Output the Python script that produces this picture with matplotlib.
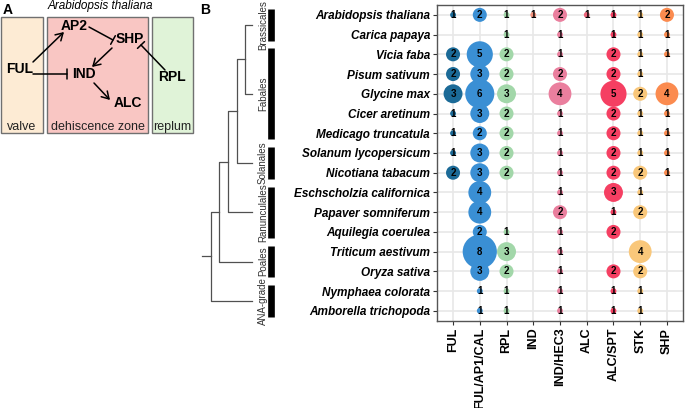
import numpy as np
import matplotlib.pyplot as plt
from matplotlib.patches import Rectangle

plt.rcParams['font.family'] = ['Liberation Sans', 'DejaVu Sans']

# ---- data (panel B) ----
species = ['Arabidopsis thaliana', 'Carica papaya', 'Vicia faba', 'Pisum sativum',
           'Glycine max', 'Cicer aretinum', 'Medicago truncatula', 'Solanum lycopersicum',
           'Nicotiana tabacum', 'Eschscholzia californica', 'Papaver somniferum',
           'Aquilegia coerulea', 'Triticum aestivum', 'Oryza sativa', 'Nymphaea colorata',
           'Amborella trichopoda']
genes = ['FUL', 'FUL/AP1/CAL', 'RPL', 'IND', 'IND/HEC3', 'ALC', 'ALC/SPT', 'STK', 'SHP']

ful      = [1, 0, 2, 2, 3, 1, 1, 1, 2, 0, 0, 0, 0, 0, 0, 0]
ful_ap1  = [2, 0, 5, 3, 6, 3, 2, 3, 3, 4, 4, 2, 8, 3, 1, 1]
rpl      = [1, 1, 2, 2, 3, 2, 2, 2, 2, 0, 0, 1, 3, 2, 1, 1]
ind      = [1, 0, 0, 0, 0, 0, 0, 0, 0, 0, 0, 0, 0, 0, 0, 0]
ind_hec3 = [2, 1, 1, 2, 4, 1, 1, 1, 1, 1, 2, 1, 1, 1, 1, 1]
alc      = [1, 0, 0, 0, 0, 0, 0, 0, 0, 0, 0, 0, 0, 0, 0, 0]
alc_spt  = [1, 1, 2, 2, 5, 2, 2, 2, 2, 3, 1, 2, 0, 2, 1, 1]
stk      = [1, 1, 1, 1, 2, 1, 1, 1, 2, 1, 2, 0, 4, 2, 1, 1]
shp      = [2, 1, 1, 0, 4, 1, 1, 1, 1, 0, 0, 0, 0, 0, 0, 0]

gene_colors = ['#1b6a97', '#3a8fd4', '#a2d7a9', '#f4947e', '#ea7f9e',
               '#ec6479', '#f53f62', '#f9c77a', '#fb8b4f']

clades = ['Brassicales', 'Fabales', 'Solanales', 'Ranunculales', 'Poales', 'ANA-grade']
clade_rows = [(1, 2), (3, 7), (8, 9), (10, 12), (13, 14), (15, 16)]

W, H = 685, 408
fig = plt.figure(figsize=(W / 100, H / 100), dpi=100)


def px_axes(x0, y0, x1, y1):
    return fig.add_axes([x0 / W, 1 - y1 / H, (x1 - x0) / W, (y1 - y0) / H])


# ---- panel A: network diagram ----
axA = px_axes(0, 0, 200, 140)
axA.set_xlim(0, 200)
axA.set_ylim(140, 0)
axA.axis('off')

zones = [('valve', 1, 43, '#fdebd4'), ('dehiscence zone', 47, 148, '#f9c6c3'),
         ('replum', 152, 193, '#e0f3d8')]
for name, x0, x1, col in zones:
    axA.add_patch(Rectangle((x0, 17), x1 - x0, 116, facecolor=col, edgecolor='#707070', lw=1))
    axA.text((x0 + x1) / 2, 127, name, ha='center', va='center', fontsize=9, color='#222222')

nodes = {'AP2': (74, 26), 'SHP': (130, 39), 'FUL': (20, 69), 'IND': (84, 74),
         'ALC': (128, 103), 'RPL': (172, 77)}
for name, (x, y) in nodes.items():
    axA.text(x, y, name, ha='center', va='center', fontsize=10, fontweight='bold')

# activation (->) and repression (-[) edges
arrows = [((33, 62), (64, 32), '->'), ((112, 48), (92, 67), '->'), ((94, 83), (110, 100), '->'),
          ((33, 74), (67, 74), '-['), ((89, 27), (113, 40), '-['), ((165, 70), (141, 45), '-[')]
for start, end, style in arrows:
    if style == '->':
        astyle = '->,head_length=0.5,head_width=0.3'
    else:
        astyle = '-[,widthB=0.35,lengthB=0'
    axA.annotate('', xy=end, xytext=start,
                 arrowprops=dict(arrowstyle=astyle, lw=1.1, color='black', shrinkA=0, shrinkB=0))

axA.text(100, 6, 'Arabidopsis thaliana', ha='center', va='center', fontsize=8.5, style='italic')
fig.text(3 / W, 1 - 10 / H, 'A', fontsize=10, fontweight='bold', va='center')
fig.text(200 / W, 1 - 10 / H, 'B', fontsize=10, fontweight='bold', va='center')

# ---- panel B: bubble chart ----
y_top, y_bot = 5, 320.7
ax = px_axes(437, y_top, 683, y_bot)
rows = np.arange(1, len(species) + 1)
series = [ful, ful_ap1, rpl, ind, ind_hec3, alc, alc_spt, stk, shp]
for j, (vals, col) in enumerate(zip(series, gene_colors)):
    vals = np.array(vals)
    m = vals > 0
    s = 84 * vals[m] - 66
    ax.scatter(np.full(m.sum(), j + 1), rows[m], s=s, color=col, edgecolors='none', zorder=3)
    for r, v in zip(rows[m], vals[m]):
        ax.text(j + 1, r, str(v), ha='center', va='center', fontsize=7, fontweight='bold', zorder=4)

ax.set_xlim(0.4, 9.6)
ax.set_ylim(16.5, 0.5)
ax.set_xticks(np.arange(1, len(genes) + 1))
ax.set_xticklabels(genes, rotation=90, fontsize=9, fontweight='bold')
ax.set_yticks(rows)
ax.set_yticklabels(species, fontsize=8.5, fontweight='bold', style='italic')
ax.grid(True, color='#e8e8e8', lw=1.2, zorder=0)
ax.set_axisbelow(True)
ax.tick_params(length=3, width=0.8, color='#333333', pad=2)
for sp in ax.spines.values():
    sp.set_color('#555555')
    sp.set_linewidth(1)

# ---- tree + clade bars (shares rows with bubble chart) ----
axT = px_axes(200, y_top, 280, y_bot)
axT.set_ylim(16.5, 0.5)
axT.set_xlim(-0.23, 8.97)
axT.axis('off')
tip_depth = 5.7
tree_col = '#505050'
centers = [(a + b) / 2 for a, b in clade_rows]
# ladder tree: (((((Bras, Fab), Sol), Ranunc), Poales), ANA)
depth = 5
y_a, y_b = centers[0], centers[1]
axT.plot([tip_depth, depth, depth, tip_depth], [y_a, y_a, y_b, y_b], color=tree_col, lw=0.9)
cur_y = (y_a + y_b) / 2
for k in range(2, len(centers)):
    d = depth - (k - 1)
    yk = centers[k]
    axT.plot([d + 1, d, d, tip_depth], [cur_y, cur_y, yk, yk], color=tree_col, lw=0.9)
    cur_y = (cur_y + yk) / 2
axT.plot([0, 1], [cur_y, cur_y], color=tree_col, lw=0.9)

for name, (a, b) in zip(clades, clade_rows):
    axT.plot([7.9, 7.9], [a - 0.3, b + 0.3], color='black', lw=4.8, solid_capstyle='butt')
    axT.text(7.0, (a + b) / 2, name, rotation=90, ha='center', va='center',
             fontsize=7, color='#333333')

fig.savefig('out.png', dpi=100)
